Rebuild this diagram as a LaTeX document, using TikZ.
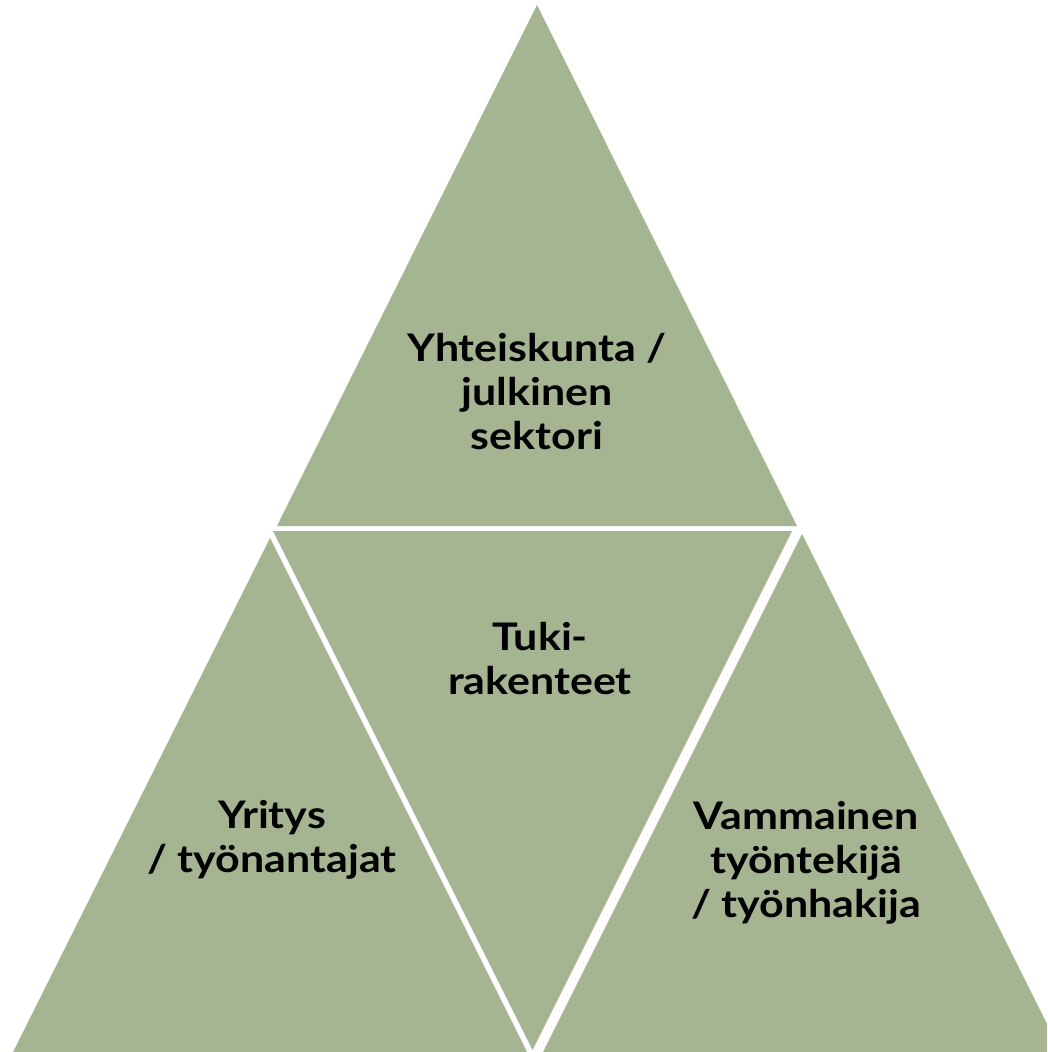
\documentclass[tikz,border=0pt]{standalone}
\usepackage{fontspec}
\setmainfont{Lato}
\newfontfamily\labelfont[FakeStretch=1.13]{Lato Bold}
\definecolor{sage}{HTML}{A5B592}
\begin{document}
\begin{tikzpicture}[x=1pt,y=-1pt,
  tri/.style={fill=sage,draw=none},
  lbl/.style={font=\labelfont\fontsize{38}{44}\selectfont,align=center,anchor=base,inner sep=0pt,text=black}]
\useasboundingbox (0,0) rectangle (1047,1052);
\fill[white] (0,0) rectangle (1047,1052);
\begin{scope}
\clip (0,0) rectangle (1047,1052);
\fill[tri] (537,5) -- (797,526) -- (277,526) -- cycle;
\fill[tri] (273,531) -- (792,531) -- (532.5,1050) -- cycle;
\fill[tri] (270,538) -- (551,1100) -- (-11,1100) -- cycle;
\fill[tri] (802,534) -- (1085,1100) -- (519,1100) -- cycle;
\end{scope}
\node[lbl] (top) at (537,449) {Yhteiskunta /\\julkinen\\sektori};
\node[lbl] (mid) at (540,694) {Tuki-\\rakenteet};
\node[lbl] (left) at (272,872) {Yritys\\/ työnantajat};
\node[lbl] (right) at (806,917) {Vammainen\\työntekijä\\/ työnhakija};
\end{tikzpicture}
\end{document}
